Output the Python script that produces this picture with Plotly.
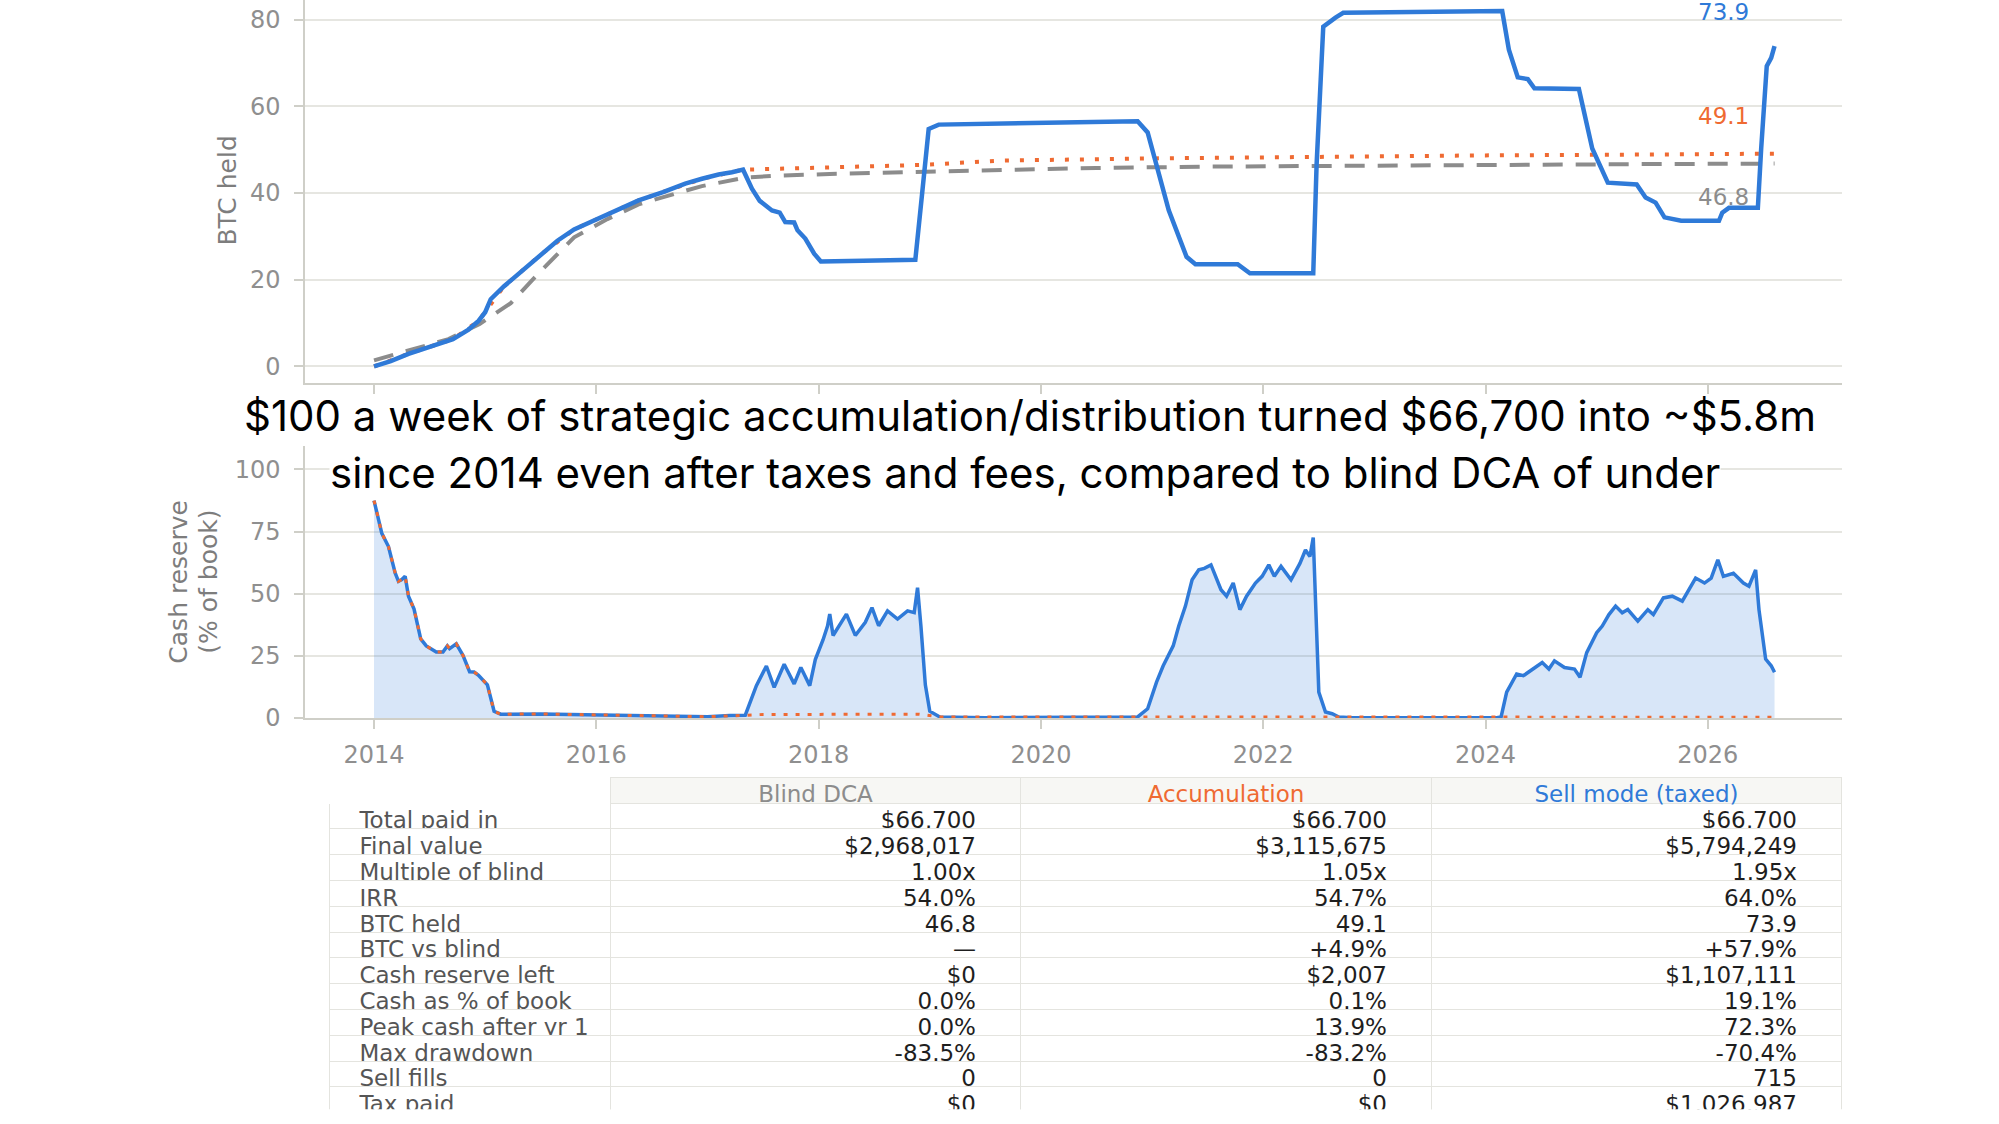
import plotly.graph_objects as go

BLUE = "#2f7ad8"
ORANGE = "#ef6a32"
GRAY = "#8c8c8c"
GRID = "#e6e6e1"
SPINE = "#cfcfc8"
TICKFONT = dict(family="DejaVu Sans", size=24, color="#8f8f8f")

# --- BTC held (top panel) ---
sell_years = [2014.00, 2014.15, 2014.31, 2014.50, 2014.71, 2014.85, 2014.94, 2015.00,
              2015.05, 2015.17, 2015.35, 2015.51, 2015.65, 2015.80, 2016.00, 2016.20,
              2016.38, 2016.60, 2016.80, 2016.95, 2017.10, 2017.22, 2017.32, 2017.40,
              2017.47, 2017.58, 2017.65, 2017.70, 2017.78, 2017.81, 2017.88, 2017.96,
              2018.02, 2018.40, 2018.87, 2018.93, 2018.99, 2019.08, 2019.64, 2020.40,
              2020.87, 2020.96, 2021.05, 2021.15, 2021.31, 2021.39, 2021.77, 2021.88,
              2022.45, 2022.48, 2022.54, 2022.60, 2022.65, 2022.72, 2023.50, 2024.15,
              2024.21, 2024.29, 2024.38, 2024.44, 2024.84, 2024.96, 2025.10, 2025.36,
              2025.44, 2025.53, 2025.61, 2025.76, 2026.10, 2026.13, 2026.19, 2026.45,
              2026.48, 2026.53, 2026.57, 2026.60]
btc_sell = [0.0, 1.2, 2.9, 4.5, 6.3, 8.5, 10.5, 12.5,
            15.5, 18.5, 22.5, 26.0, 29.0, 31.6, 34.0, 36.3,
            38.3, 40.2, 42.2, 43.3, 44.3, 44.8, 45.4, 41.0,
            38.2, 36.0, 35.5, 33.3, 33.2, 31.4, 29.5, 26.0,
            24.2, 24.4, 24.6, 39.6, 54.8, 55.8, 56.0, 56.4,
            56.6, 54.0, 45.1, 36.0, 25.3, 23.6, 23.6, 21.5,
            21.5, 46.5, 78.4, 79.6, 80.5, 81.6, 81.8, 82.0,
            73.1, 66.7, 66.3, 64.2, 64.0, 50.3, 42.4, 42.0,
            39.0, 37.8, 34.4, 33.6, 33.6, 35.5, 36.6, 36.6,
            50.3, 69.3, 71.2, 73.9]

blind_years = [2014.00, 2014.30, 2014.67, 2014.95, 2015.23, 2015.50, 2015.80, 2016.10,
               2016.38, 2016.70, 2016.95, 2017.32, 2017.60, 2018.10, 2019.00, 2019.64,
               2020.50, 2021.50, 2022.50, 2023.50, 2024.50, 2025.50, 2026.60]
btc_blind = [1.4, 3.5, 6.3, 9.8, 14.6, 22.0, 29.8, 34.0,
             37.4, 39.8, 41.6, 43.5, 44.0, 44.4, 45.0, 45.4,
             45.8, 46.1, 46.3, 46.5, 46.6, 46.7, 46.8]

acc_years = [2014.00, 2014.31, 2014.71, 2014.94, 2015.17, 2015.51, 2015.80, 2016.38,
             2016.95, 2017.32, 2018.93, 2019.64, 2021.00, 2022.50, 2024.00, 2025.50,
             2026.60]
btc_acc = [0.0, 2.9, 6.3, 10.5, 18.5, 26.0, 31.6, 38.3,
           43.3, 45.4, 46.5, 47.5, 48.0, 48.4, 48.7, 48.9,
           49.1]

# --- Cash reserve, % of book (middle panel) ---
cash_years = [2014.00, 2014.04, 2014.07, 2014.13, 2014.19, 2014.22, 2014.25, 2014.28,
              2014.31, 2014.36, 2014.42, 2014.47, 2014.51, 2014.56, 2014.62, 2014.66,
              2014.68, 2014.74, 2014.80, 2014.86, 2014.90, 2014.94, 2015.02, 2015.08,
              2015.14, 2015.50, 2015.90, 2016.50, 2017.00, 2017.20, 2017.34, 2017.44,
              2017.53, 2017.60, 2017.69, 2017.78, 2017.84, 2017.92, 2017.97, 2018.04,
              2018.08, 2018.10, 2018.13, 2018.25, 2018.33, 2018.42, 2018.48, 2018.54,
              2018.62, 2018.71, 2018.80, 2018.86, 2018.89, 2018.92, 2018.96, 2019.00,
              2019.09, 2019.50, 2020.80, 2020.87, 2020.96, 2021.04, 2021.10, 2021.19,
              2021.24, 2021.30, 2021.36, 2021.42, 2021.47, 2021.53, 2021.62, 2021.67,
              2021.73, 2021.79, 2021.85, 2021.93, 2021.99, 2022.05, 2022.10, 2022.16,
              2022.25, 2022.33, 2022.38, 2022.42, 2022.45, 2022.48, 2022.50, 2022.56,
              2022.62, 2022.68, 2022.80, 2024.10, 2024.14, 2024.19, 2024.28, 2024.34,
              2024.42, 2024.51, 2024.57, 2024.62, 2024.71, 2024.80, 2024.85, 2024.91,
              2025.00, 2025.05, 2025.11, 2025.17, 2025.23, 2025.28, 2025.37, 2025.46,
              2025.51, 2025.60, 2025.68, 2025.77, 2025.89, 2025.97, 2026.03, 2026.09,
              2026.14, 2026.23, 2026.32, 2026.37, 2026.43, 2026.46, 2026.52, 2026.57,
              2026.60]
cash_sell = [87.5, 80.0, 74.3, 69.0, 58.4, 55.0, 55.7, 57.0,
             49.0, 43.8, 31.8, 29.0, 27.9, 26.5, 26.5, 29.0,
             27.9, 29.8, 25.2, 18.6, 18.5, 17.2, 13.3, 2.7,
             1.5, 1.6, 1.3, 0.8, 0.5, 1.0, 1.1, 13.0,
             20.9, 12.3, 21.6, 13.7, 20.3, 13.0, 23.5, 31.5,
             37.0, 41.8, 33.2, 41.8, 33.2, 38.5, 44.4, 37.1,
             43.1, 39.8, 43.1, 42.4, 52.4, 37.1, 13.3, 2.7,
             0.4, 0.1, 0.1, 0.4, 3.7, 14.4, 21.0, 29.0,
             37.0, 45.0, 55.6, 59.6, 60.2, 61.6, 51.6, 49.0,
             54.3, 43.6, 49.0, 54.3, 57.0, 61.6, 57.0, 61.0,
             55.6, 62.2, 67.6, 65.0, 72.6, 37.0, 10.4, 2.4,
             1.7, 0.4, 0.1, 0.1, 0.4, 10.4, 17.7, 17.0,
             19.7, 22.3, 19.7, 23.0, 20.3, 19.7, 16.4, 26.3,
             34.3, 37.0, 41.6, 45.0, 42.3, 43.6, 39.0, 43.6,
             41.6, 48.3, 49.0, 47.0, 56.3, 54.3, 56.3, 63.6,
             57.0, 58.2, 54.3, 53.0, 59.6, 43.6, 23.7, 21.0,
             18.4]

cash_acc_years = [2014.00, 2014.04, 2014.07, 2014.13, 2014.19, 2014.22, 2014.25, 2014.28,
                  2014.31, 2014.36, 2014.42, 2014.47, 2014.51, 2014.56, 2014.62, 2014.66,
                  2014.68, 2014.74, 2014.80, 2014.86, 2014.90, 2014.94, 2015.02, 2015.08,
                  2015.14, 2015.50, 2015.90, 2016.50, 2017.00, 2017.30, 2017.50, 2018.90,
                  2019.10, 2026.60]
cash_acc = [87.5, 80.0, 74.3, 69.0, 58.4, 55.0, 55.7, 57.0,
            49.0, 43.8, 31.8, 29.0, 27.9, 26.5, 26.5, 29.0,
            27.9, 29.8, 25.2, 18.6, 18.5, 17.2, 13.3, 2.7,
            1.5, 1.6, 1.3, 0.8, 0.5, 1.0, 1.4, 1.5,
            0.4, 0.3]

year_ticks = [2014, 2016, 2018, 2020, 2022, 2024, 2026]
year_labels = ["2014", "2016", "2018", "2020", "2022", "2024", "2026"]

# --- summary table ---
table_header = ["", "Blind DCA", "Accumulation", "Sell mode (taxed)"]
row_labels = ["Total paid in", "Final value", "Multiple of blind", "IRR", "BTC held",
              "BTC vs blind", "Cash reserve left", "Cash as % of book",
              "Peak cash after yr 1", "Max drawdown", "Sell fills", "Tax paid"]
col_blind = ["$66,700", "$2,968,017", "1.00x", "54.0%", "46.8", "\u2014", "$0", "0.0%",
             "0.0%", "-83.5%", "0", "$0"]
col_acc = ["$66,700", "$3,115,675", "1.05x", "54.7%", "49.1", "+4.9%", "$2,007", "0.1%",
           "13.9%", "-83.2%", "0", "$0"]
col_sell = ["$66,700", "$5,794,249", "1.95x", "64.0%", "73.9", "+57.9%", "$1,107,111", "19.1%",
            "72.3%", "-70.4%", "715", "$1,026,987"]

title_lines = ["$100 a week of strategic accumulation/distribution turned $66,700 into ~$5.8m",
               "since 2014 even after taxes and fees, compared to blind DCA of under"]

W, H = 1999, 1124
NB = "\u00a0"


def px_x(p):
    return p / W


def px_y(p):
    return 1 - p / H


fig = go.Figure()

fig.add_trace(go.Scatter(x=blind_years, y=btc_blind, mode="lines", name="Blind DCA",
                         line=dict(color=GRAY, width=4, dash="20px,13px"),
                         xaxis="x", yaxis="y"))
fig.add_trace(go.Scatter(x=acc_years, y=btc_acc, mode="lines", name="Accumulation",
                         line=dict(color=ORANGE, width=4, dash="4px,11px"),
                         xaxis="x", yaxis="y"))
fig.add_trace(go.Scatter(x=sell_years, y=btc_sell, mode="lines", name="Sell mode (taxed)",
                         line=dict(color=BLUE, width=4.5),
                         xaxis="x", yaxis="y"))

fig.add_trace(go.Scatter(x=cash_years, y=cash_sell, mode="lines", fill="tozeroy",
                         fillcolor="rgba(47,122,216,0.19)",
                         line=dict(color=BLUE, width=3.5),
                         xaxis="x2", yaxis="y2"))
fig.add_trace(go.Scatter(x=cash_acc_years, y=cash_acc, mode="lines",
                         line=dict(color=ORANGE, width=3, dash="4px,8px"),
                         xaxis="x2", yaxis="y2"))

# non-breaking spaces keep plotly from re-wrapping the labels and give matplotlib-like padding
label_cells = [(NB * 3 + s).replace(" ", NB) for s in row_labels]

fig.add_trace(go.Table(
    domain=dict(x=[px_x(329.5), px_x(1842)], y=[0, px_y(787)]),
    columnwidth=[281, 410, 411, 410],
    header=dict(values=table_header,
                align="center",
                height=26,
                fill_color=["white", "#f7f7f4", "#f7f7f4", "#f7f7f4"],
                line=dict(color=["white", "#e4e4df", "#e4e4df", "#e4e4df"], width=1),
                font=dict(family="DejaVu Sans", size=23,
                          color=["#444444", GRAY, ORANGE, BLUE])),
    cells=dict(values=[label_cells, col_blind, col_acc, col_sell],
               align=["left", "right", "right", "right"],
               height=25.8,
               suffix=["", NB * 5, NB * 5, NB * 5],
               fill_color="white",
               line=dict(color="#e4e4df", width=1),
               font=dict(family="DejaVu Sans", size=23,
                         color=["#555555", "#1e1e1e", "#1e1e1e", "#1e1e1e"])),
))

axis_common = dict(gridcolor=GRID, gridwidth=1.5,
                   showline=True, linecolor=SPINE, linewidth=1.5,
                   ticks="outside", ticklen=9, tickwidth=1.5, tickcolor=SPINE,
                   tickfont=TICKFONT, zeroline=False)

x_range = [2013.379, 2027.207]

fig.update_layout(
    width=W, height=H,
    margin=dict(l=0, r=0, t=0, b=0),
    paper_bgcolor="white", plot_bgcolor="white",
    showlegend=False,
    xaxis=dict(domain=[px_x(305), px_x(1842)], anchor="y", range=x_range,
               tickvals=year_ticks, ticktext=year_labels, showticklabels=False,
               showgrid=False, **axis_common),
    yaxis=dict(domain=[px_y(388), 1], anchor="x", range=[-3.87, 84.56],
               tickvals=[0, 20, 40, 60, 80], ticklabelstandoff=9, showgrid=True,
               **axis_common),
    xaxis2=dict(domain=[px_x(305), px_x(1842)], anchor="y2", range=x_range,
                tickvals=year_ticks, ticktext=year_labels, ticklabelstandoff=6,
                showgrid=False, **axis_common),
    yaxis2=dict(domain=[px_y(727), px_y(452)], anchor="x2", range=[0, 109.3],
                tickvals=[0, 25, 50, 75, 100], ticklabelstandoff=9, showgrid=True,
                **axis_common),
)

axis_title_font = dict(family="DejaVu Sans", size=25, color="#7d7d7d")
annotations = [
    dict(text="BTC held", xref="paper", yref="paper", x=px_x(228), y=px_y(193),
         textangle=-90, showarrow=False, xanchor="center", yanchor="middle",
         font=axis_title_font),
    dict(text="Cash reserve", xref="paper", yref="paper", x=px_x(179), y=px_y(589),
         textangle=-90, showarrow=False, xanchor="center", yanchor="middle",
         font=axis_title_font),
    dict(text="(% of book)", xref="paper", yref="paper", x=px_x(209), y=px_y(589),
         textangle=-90, showarrow=False, xanchor="center", yanchor="middle",
         font=axis_title_font),
    dict(text=title_lines[0], xref="paper", yref="paper", x=px_x(1030), y=px_y(421),
         showarrow=False, xanchor="center", yanchor="middle",
         font=dict(family="Inter", size=42, color="black")),
    dict(text=title_lines[1], xref="paper", yref="paper", x=px_x(1025), y=px_y(478),
         showarrow=False, xanchor="center", yanchor="middle", bgcolor="white",
         borderpad=0,
         font=dict(family="Inter", size=42, color="black")),
]

end_labels = [(btc_sell[-1], 81.8, BLUE), (btc_acc[-1], 57.9, ORANGE), (btc_blind[-1], 39.2, GRAY)]
for val, ypos, col in end_labels:
    annotations.append(dict(text=f"{val:.1f}", xref="x", yref="y", x=2026.14, y=ypos,
                            showarrow=False, xanchor="center", yanchor="middle",
                            font=dict(family="DejaVu Sans", size=23, color=col)))

fig.update_layout(annotations=annotations)

fig.write_html(
    "out.html",
    config={"displayModeBar": False},
    post_script="document.body.style.margin='0px';"
                "document.documentElement.style.overflow='hidden';",
)
